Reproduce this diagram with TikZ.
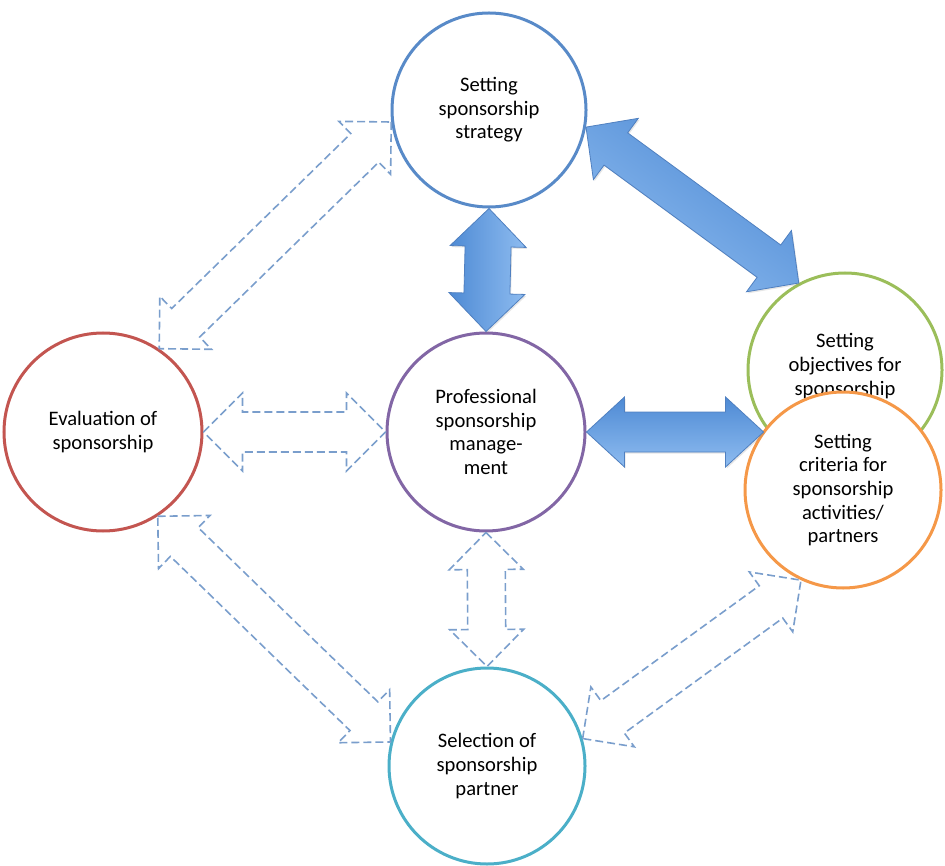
\documentclass[tikz,border=0pt]{standalone}
\usepackage{fontspec}
\setmainfont{Carlito}
\usetikzlibrary{calc,shadows}

\definecolor{stratcol}{RGB}{88,138,200}
\definecolor{mgmtcol}{RGB}{130,102,165}
\definecolor{evalcol}{RGB}{195,85,80}
\definecolor{selcol}{RGB}{75,175,200}
\definecolor{objcol}{RGB}{155,190,90}
\definecolor{critcol}{RGB}{245,152,72}
\definecolor{arrowdark}{RGB}{78,138,212}
\definecolor{arrowlight}{RGB}{142,188,240}
\definecolor{arrowline}{RGB}{80,128,192}
\definecolor{dashcol}{RGB}{122,158,204}

\tikzset{
  stage/.style={circle,draw,line width=1.5pt,fill=white,inner sep=0pt,minimum size=#1,align=center,font=\fontsize{10.3}{11.8}\selectfont},
  bigarrow/.style={draw=arrowline,line width=0.4pt,top color=arrowdark,bottom color=arrowlight,shading angle=#1,
    drop shadow={opacity=0.2,shadow xshift=0.6pt,shadow yshift=-0.8pt}},
  dasharrow/.style={draw=dashcol,line width=0.8pt,dash pattern=on 4pt off 2pt}
}

% style, from, to, shaft half width, head half width, head length
\newcommand{\blockarrow}[6]{%
  \path[#1] (#2)
    -- ($($(#2)!#6!(#3)$)!#5!90:(#3)$)
    -- ($($(#2)!#6!(#3)$)!#4!90:(#3)$)
    -- ($($(#3)!#6!(#2)$)!#4!-90:(#2)$)
    -- ($($(#3)!#6!(#2)$)!#5!-90:(#2)$)
    -- (#3)
    -- ($($(#3)!#6!(#2)$)!#5!90:(#2)$)
    -- ($($(#3)!#6!(#2)$)!#4!90:(#2)$)
    -- ($($(#2)!#6!(#3)$)!#4!-90:(#3)$)
    -- ($($(#2)!#6!(#3)$)!#5!-90:(#3)$)
    -- cycle;}

\begin{document}
\begin{tikzpicture}[x=0.5pt,y=-0.5pt]
        \useasboundingbox (0,0) rectangle (945,865);

        \node[stage=97pt,draw=stratcol](strat)at(489,110){Setting\\sponsorship\\strategy};
        \node[stage=99pt,draw=mgmtcol](mgmt)at(486,432){Professional\\sponsorship\\manage-\\ment};
        \node[stage=99pt,draw=evalcol](eval)at(103,432){Evaluation of\\sponsorship};
        \node[stage=98pt,draw=selcol](sel)at(487,766){Selection of\\sponsorship\\partner};
        \node[stage=97pt,draw=objcol](obj)at(845,370){};
        \node[align=center,font=\fontsize{10.3}{11.8}\selectfont](objtext)at([yshift=2pt]obj.center){Setting\\objectives for\\sponsorship};
        \node[stage=98pt,draw=critcol](crit)at(843,490){Setting\\criteria for\\sponsorship\\activities/\\partners};

        \coordinate (critw) at (crit.143 |- mgmt.east);

        \blockarrow{bigarrow=90}{strat.south}{mgmt.north}{11.5pt}{19pt}{19pt}
        \blockarrow{bigarrow=-36}{strat.-10}{obj.118}{10pt}{19pt}{18.5pt}
        \blockarrow{bigarrow=0}{mgmt.east}{critw}{10pt}{17.5pt}{19pt}

        \blockarrow{dasharrow}{strat.187}{eval.56}{10pt}{18.5pt}{18.5pt}
        \blockarrow{dasharrow}{eval.east}{mgmt.west}{10pt}{19.5pt}{19.5pt}
        \blockarrow{dasharrow}{mgmt.south}{sel.north}{9.5pt}{18.5pt}{18.5pt}
        \blockarrow{dasharrow}{eval.-57}{sel.166}{10pt}{18.5pt}{18.5pt}
        \blockarrow{dasharrow}{sel.16}{crit.245}{10pt}{18.5pt}{18.5pt}
    \end{tikzpicture}
\end{document}
